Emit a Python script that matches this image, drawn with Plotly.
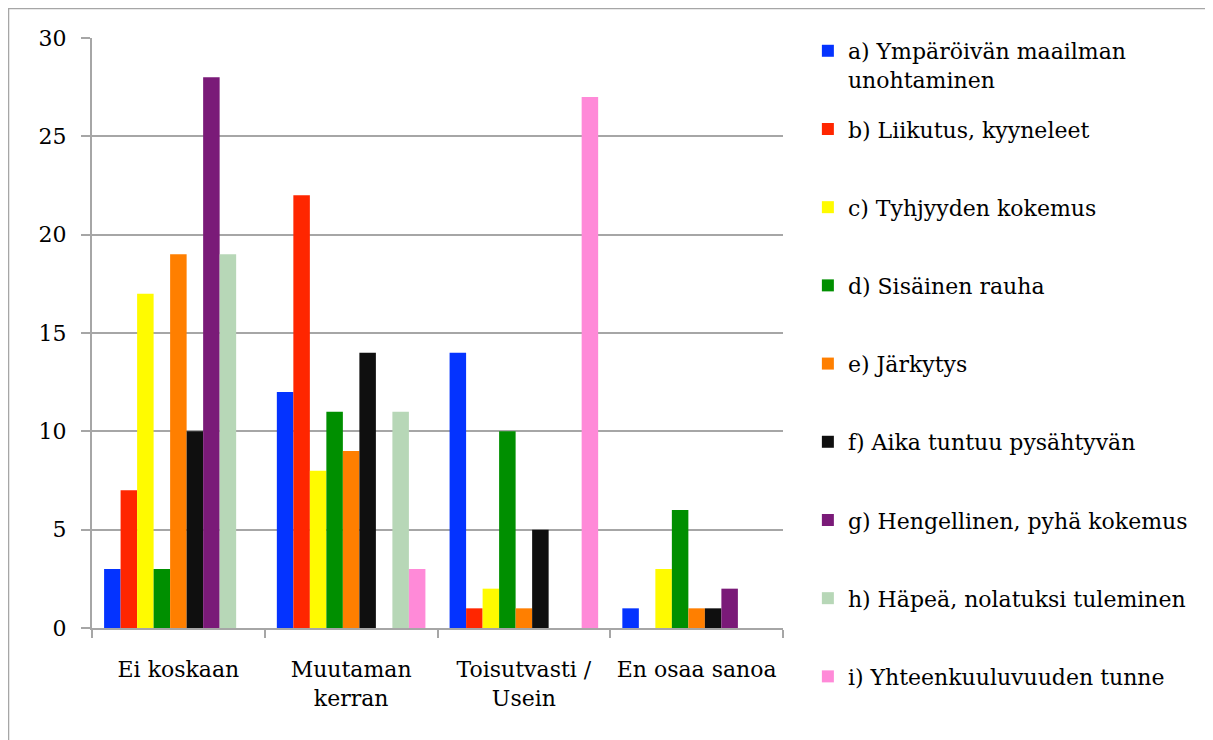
import plotly.graph_objects as go

# categories and series
categories = ["Ei koskaan", "Muutaman<br>kerran", "Toisutvasti /<br>Usein", "En osaa sanoa"]

series_names = [
    "a) Ympäröivän maailman<br>unohtaminen",
    "b) Liikutus, kyyneleet",
    "c) Tyhjyyden kokemus",
    "d) Sisäinen rauha",
    "e) Järkytys",
    "f) Aika tuntuu pysähtyvän",
    "g) Hengellinen, pyhä kokemus",
    "h) Häpeä, nolatuksi tuleminen",
    "i) Yhteenkuuluvuuden tunne",
]

a_vals = [3, 12, 14, 1]
b_vals = [7, 22, 1, 0]
c_vals = [17, 8, 2, 3]
d_vals = [3, 11, 10, 6]
e_vals = [19, 9, 1, 1]
f_vals = [10, 14, 5, 1]
g_vals = [28, 0, 0, 2]
h_vals = [19, 11, 0, 0]
i_vals = [0, 3, 27, 0]

series_values = [a_vals, b_vals, c_vals, d_vals, e_vals, f_vals, g_vals, h_vals, i_vals]

y_ticks = [0, 5, 10, 15, 20, 25, 30]

# colours
colors = ["#0433FF", "#FF2600", "#FFFB00", "#008F00", "#FF7F00",
          "#0F0F0F", "#7A1A78", "#B7D7B7", "#FF8AD8"]
grid = "#A6A6A6"
font_family = "DejaVu Serif, Liberation Serif, serif"
fsize = 22

fig = go.Figure()

for k, (name, vals) in enumerate(zip(series_names, series_values)):
    # every legend entry gets two text lines so all entries are equally spaced
    label = name if "<br>" in name else name + "<br> "
    fig.add_trace(go.Bar(
        x=categories,
        y=vals,
        name=label,
        legendgroup=f"g{k}",
        marker=dict(color=colors[k], line=dict(width=0)),
    ))

fig.update_layout(
    width=1205,
    height=732,
    barmode="group",
    bargap=0.14,
    bargroupgap=0,
    paper_bgcolor="white",
    plot_bgcolor="white",
    font=dict(family=font_family, size=fsize, color="#000000"),
    margin=dict(l=84, r=430, t=30, b=112),
    legend=dict(
        x=1.036, xanchor="left",
        y=1.0136, yanchor="top",
        traceorder="grouped",
        tracegroupgap=18,
        valign="top",
        maxheight=725,
        font=dict(family=font_family, size=fsize),
        bgcolor="rgba(0,0,0,0)",
    ),
    shapes=[
        dict(type="rect", xref="paper", yref="paper",
             x0=-0.1208, x1=1.8, y0=-0.3, y1=1.0500,
             line=dict(color=grid, width=1.5), fillcolor="rgba(0,0,0,0)",
             layer="below"),
    ],
)

fig.update_xaxes(
    showline=True, linecolor=grid, linewidth=2,
    ticks="outside", tickson="boundaries", ticklen=8, tickcolor=grid, tickwidth=2,
    showgrid=False,
    tickfont=dict(family=font_family, size=fsize),
    ticklabelstandoff=21,
)

fig.update_yaxes(
    range=[0, 30],
    tickvals=y_ticks,
    showline=True, linecolor=grid, linewidth=2,
    ticks="outside", ticklen=9, tickcolor=grid, tickwidth=2,
    showgrid=True, gridcolor=grid, gridwidth=1.5,
    zeroline=False,
    tickfont=dict(family=font_family, size=fsize),
    ticklabelstandoff=10,
)

fig.write_html("out.html")
